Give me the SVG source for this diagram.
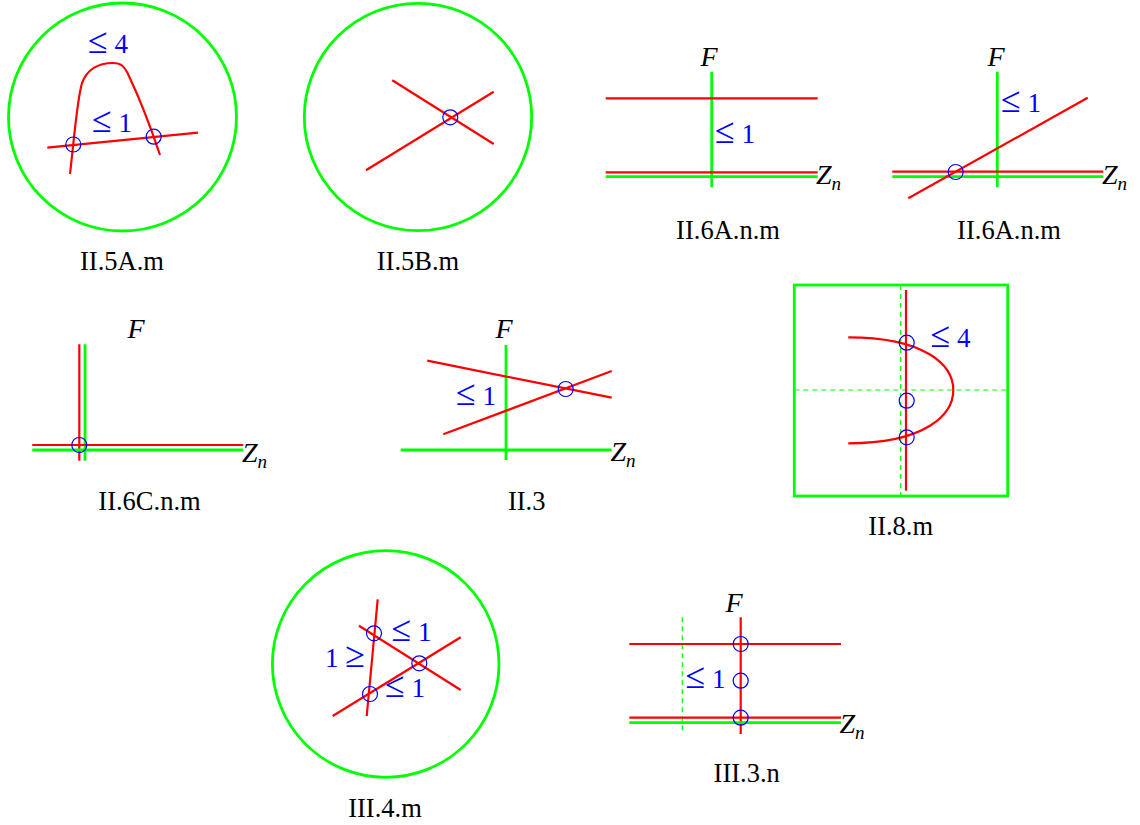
<svg xmlns="http://www.w3.org/2000/svg" width="1140" height="825" viewBox="0 0 1140 825">
<style>
.g{fill:none;stroke:#00ff00;stroke-width:2.8}
.gd{fill:none;stroke:#00ff00;stroke-width:1.2;stroke-dasharray:5 4}
.r{fill:none;stroke:#ff0000;stroke-width:2.2}
.c{fill:none;stroke:#0000ff;stroke-width:1.2}
.cap{font-family:"Liberation Serif",serif;font-size:26.5px;fill:#000;text-anchor:middle}
.lb{font-family:"Liberation Serif",serif;font-size:27px;fill:#0000ff}
.le{font-family:"Liberation Serif",serif;font-size:36px}
.it{font-family:"Liberation Serif",serif;font-size:28px;font-style:italic;fill:#000}
.sub{font-size:19px}
</style>
<rect width="1140" height="825" fill="#fff"/>
<g id="II.5A.m">
<circle class="g" cx="122.5" cy="117" r="114"/>
<line class="r" x1="47.3" y1="147.7" x2="198" y2="132.7"/>
<path class="r" d="M70 174 C74 140 77 100 82 83 C87 70 98 63 113 63 C121 63 124 66 128 74 C138 95 150 125 160 155"/>
<circle class="c" cx="73.3" cy="144.5" r="7.5"/>
<circle class="c" cx="153.7" cy="136.7" r="7.5"/>
<text class="lb" x="88" y="53"><tspan class="le">≤</tspan> 4</text>
<text class="lb" x="92" y="132"><tspan class="le">≤</tspan> 1</text>
<text class="cap" x="122" y="270">II.5A.m</text>
</g>
<g id="II.5B.m">
<circle class="g" cx="418" cy="117" r="113.7"/>
<line class="r" x1="392.3" y1="80.3" x2="493.7" y2="144"/>
<line class="r" x1="366" y1="170.3" x2="493.7" y2="91.7"/>
<circle class="c" cx="450.3" cy="117.3" r="7.5"/>
<text class="cap" x="418" y="270">II.5B.m</text>
</g>
<g id="II.6A.n.m-1">
<line class="g" x1="711.7" y1="71.7" x2="711.7" y2="187.3"/>
<line class="r" x1="605.7" y1="98.3" x2="817.7" y2="98.3"/>
<line class="r" x1="605.7" y1="172.3" x2="817.7" y2="172.3"/>
<line class="g" x1="605.7" y1="176.7" x2="817.7" y2="176.7"/>
<text class="it" x="709" y="66" text-anchor="middle">F</text>
<text class="it" x="816" y="184">Z<tspan class="sub" dy="6">n</tspan></text>
<text class="lb" x="715" y="143"><tspan class="le">≤</tspan> 1</text>
<text class="cap" x="728" y="239">II.6A.n.m</text>
</g>
<g id="II.6A.n.m-2">
<line class="g" x1="997.3" y1="71.7" x2="997.3" y2="187.3"/>
<line class="r" x1="892.3" y1="171.7" x2="1103.3" y2="171.7"/>
<line class="g" x1="892.3" y1="176.7" x2="1103.3" y2="176.7"/>
<line class="r" x1="908.3" y1="198.3" x2="1087.7" y2="97.7"/>
<circle class="c" cx="955.7" cy="172" r="7.5"/>
<text class="it" x="996" y="66" text-anchor="middle">F</text>
<text class="it" x="1102" y="184">Z<tspan class="sub" dy="6">n</tspan></text>
<text class="lb" x="1001" y="111.7"><tspan class="le">≤</tspan> 1</text>
<text class="cap" x="1009" y="239">II.6A.n.m</text>
</g>
<g id="II.6C.n.m">
<line class="r" x1="79.3" y1="344.3" x2="79.3" y2="460.7"/>
<line class="g" x1="85" y1="344.3" x2="85" y2="460.7"/>
<line class="r" x1="32.3" y1="445" x2="243.3" y2="445"/>
<line class="g" x1="32.3" y1="450" x2="243.3" y2="450"/>
<circle class="c" cx="79.3" cy="445" r="7.5"/>
<text class="it" x="136" y="338" text-anchor="middle">F</text>
<text class="it" x="242" y="461.7">Z<tspan class="sub" dy="6">n</tspan></text>
<text class="cap" x="149.5" y="510">II.6C.n.m</text>
</g>
<g id="II.3">
<line class="g" x1="506" y1="345" x2="506" y2="460"/>
<line class="g" x1="400.7" y1="450" x2="611.7" y2="450"/>
<line class="r" x1="427.3" y1="360.7" x2="611.7" y2="397.7"/>
<line class="r" x1="443.3" y1="434.3" x2="611.7" y2="371"/>
<circle class="c" cx="565.7" cy="389" r="7.5"/>
<text class="it" x="504" y="338" text-anchor="middle">F</text>
<text class="it" x="610.5" y="461">Z<tspan class="sub" dy="6">n</tspan></text>
<text class="lb" x="456" y="405"><tspan class="le">≤</tspan> 1</text>
<text class="cap" x="526.7" y="510">II.3</text>
</g>
<g id="II.8.m">
<rect class="g" x="794.3" y="285" width="213.4" height="211"/>
<line class="gd" x1="900.7" y1="285" x2="900.7" y2="496"/>
<line class="gd" x1="794.3" y1="390" x2="1007.7" y2="390"/>
<line class="r" x1="906" y1="290" x2="906" y2="490.7"/>
<path class="r" d="M848.3 337.3 C925 337.3 953.3 365 953.3 390 C953.3 415 925 443.3 848.3 443.3"/>
<circle class="c" cx="906.7" cy="342.7" r="7.5"/>
<circle class="c" cx="906.7" cy="400.7" r="7.5"/>
<circle class="c" cx="906.7" cy="437.3" r="7.5"/>
<text class="lb" x="930.5" y="346.7"><tspan class="le">≤</tspan> 4</text>
<text class="cap" x="900.7" y="535">II.8.m</text>
</g>
<g id="III.4.m">
<circle class="g" cx="385.7" cy="664" r="113.3"/>
<line class="r" x1="377.7" y1="599.3" x2="366.7" y2="716"/>
<line class="r" x1="359" y1="625.7" x2="460.7" y2="690"/>
<line class="r" x1="332.7" y1="716" x2="460.7" y2="637.3"/>
<circle class="c" cx="374" cy="633.3" r="7.5"/>
<circle class="c" cx="419.3" cy="663.3" r="7.5"/>
<circle class="c" cx="370" cy="694" r="7.5"/>
<text class="lb" x="391.5" y="641"><tspan class="le">≤</tspan> 1</text>
<text class="lb" x="325" y="666.7">1 <tspan class="le">≥</tspan></text>
<text class="lb" x="385" y="696.7"><tspan class="le">≤</tspan> 1</text>
<text class="cap" x="385" y="816.7">III.4.m</text>
</g>
<g id="III.3.n">
<line class="gd" x1="682.3" y1="617.3" x2="682.3" y2="734"/>
<line class="r" x1="740.7" y1="617.3" x2="740.7" y2="734"/>
<line class="r" x1="629.3" y1="644" x2="841" y2="644"/>
<line class="r" x1="629.3" y1="717.7" x2="841" y2="717.7"/>
<line class="g" x1="629.3" y1="722.7" x2="841" y2="722.7"/>
<circle class="c" cx="740.7" cy="644" r="7.5"/>
<circle class="c" cx="740.7" cy="680.7" r="7.5"/>
<circle class="c" cx="740.7" cy="717.7" r="7.5"/>
<text class="it" x="734" y="611.7" text-anchor="middle">F</text>
<text class="it" x="839.5" y="732.7">Z<tspan class="sub" dy="6">n</tspan></text>
<text class="lb" x="685.5" y="688.3"><tspan class="le">≤</tspan> 1</text>
<text class="cap" x="746.7" y="781.7">III.3.n</text>
</g>
<g id="connectors"></g>
</svg>
